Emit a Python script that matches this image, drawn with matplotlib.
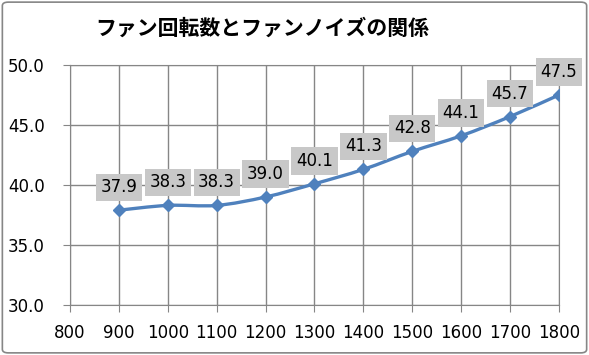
import numpy as np
import matplotlib
matplotlib.use("Agg")
import matplotlib.pyplot as plt
from matplotlib.path import Path
from matplotlib.patches import PathPatch, FancyBboxPatch

# data
rpm = [900, 1000, 1100, 1200, 1300, 1400, 1500, 1600, 1700, 1800]
noise = [37.9, 38.3, 38.3, 39.0, 40.1, 41.3, 42.8, 44.1, 45.7, 47.5]
x_ticks = list(range(800, 1900, 100))
y_ticks = [30.0, 35.0, 40.0, 45.0, 50.0]
title = "ファン回転数とファンノイズの関係"

plt.rcParams['font.family'] = ['DejaVu Sans']

fig = plt.figure(figsize=(5.89, 3.55), dpi=100)
ax = fig.add_axes([0.1188, 0.1408, 0.8302, 0.6762])

line_color = "#4F81BD"
grid_color = "#868686"

# smoothed line (Bezier through data points, Excel style)
xs = np.array(rpm, dtype=float)
ys = np.array(noise, dtype=float)
verts = [(xs[0], ys[0])]
codes = [Path.MOVETO]
t = 1 / 6
for i in range(len(xs) - 1):
    p0 = (xs[i - 1], ys[i - 1]) if i > 0 else (xs[i], ys[i])
    p1 = (xs[i], ys[i])
    p2 = (xs[i + 1], ys[i + 1])
    p3 = (xs[i + 2], ys[i + 2]) if i + 2 < len(xs) else p2
    c1 = (p1[0] + (p2[0] - p0[0]) * t, p1[1] + (p2[1] - p0[1]) * t)
    c2 = (p2[0] - (p3[0] - p1[0]) * t, p2[1] - (p3[1] - p1[1]) * t)
    verts += [c1, c2, p2]
    codes += [Path.CURVE4] * 3
ax.add_patch(PathPatch(Path(verts, codes), fill=False, edgecolor=line_color,
                       lw=2.4, zorder=3))
ax.plot(rpm, noise, linestyle="none", marker="D", markersize=6.5,
        color=line_color, zorder=4)

for x, y in zip(rpm, noise):
    ax.annotate(f"{y:.1f}", (x, y), xytext=(0, 16.5), textcoords="offset points",
                ha="center", va="center", fontsize=12, color="black",
                bbox=dict(boxstyle="square,pad=0.28", fc="#C8C8C8", ec="none"),
                zorder=5, annotation_clip=False)

ax.set_xlim(800, 1800)
ax.set_ylim(30, 50)
ax.set_xticks(x_ticks)
ax.set_yticks(y_ticks)
ax.set_yticklabels([f"{v:.1f}" for v in y_ticks])
ax.grid(True, color=grid_color, lw=1)
ax.set_axisbelow(True)
for s in ax.spines.values():
    s.set_color(grid_color)
ax.tick_params(axis="both", direction="out", length=5.2, color=grid_color,
               labelsize=12)
ax.tick_params(axis="y", pad=13)
ax.tick_params(axis="x", pad=8.5)

fig.text(0.445, 0.92, title, ha="center", va="center", fontsize=15,
         fontweight="bold", family=['Noto Sans CJK JP', 'DejaVu Sans'])

fig.patches.append(FancyBboxPatch((0.004, 0.006), 0.992, 0.988,
                                  boxstyle="round,pad=0,rounding_size=0.01",
                                  transform=fig.transFigure, fill=False,
                                  ec="#868686", lw=1.2))

fig.savefig("out.png", dpi=100)
